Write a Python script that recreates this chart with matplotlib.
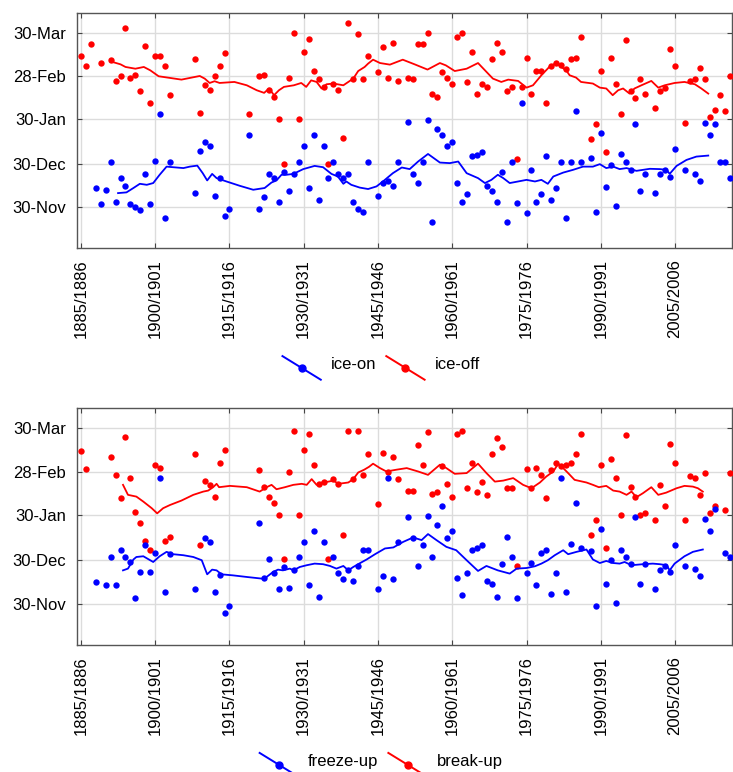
import matplotlib
matplotlib.use("Agg")
import numpy as np
import matplotlib.pyplot as plt
from matplotlib.lines import Line2D
from matplotlib.legend_handler import HandlerBase

plt.rcParams["font.family"] = ["Liberation Sans", "DejaVu Sans"]

# day of season counted from 30-Nov (0)
date_ticks = [0, 30, 61, 90, 120]
date_labels = ["30-Nov", "30-Dec", "30-Jan", "28-Feb", "30-Mar"]
season_ticks = [1885, 1900, 1915, 1930, 1945, 1960, 1975, 1990, 2005]
season_labels = ["%d/%d" % (y, y + 1) for y in season_ticks]

# ---- top panel: ice-on / ice-off ----
off_years = [1885, 1886, 1887, 1889, 1891, 1892, 1893, 1894, 1895, 1896, 1897, 1898, 1899,
             1900, 1901, 1902, 1903, 1908, 1909, 1910, 1911, 1912, 1913, 1914, 1919, 1921,
             1922, 1923, 1924, 1925, 1926, 1927, 1928, 1929, 1930, 1931, 1932, 1933, 1934,
             1935, 1936, 1937, 1938, 1939, 1940, 1941, 1942, 1943, 1945, 1946, 1947, 1948,
             1949, 1951, 1952, 1953, 1954, 1955, 1956, 1957, 1958, 1959, 1960, 1961, 1962,
             1963, 1964, 1965, 1966, 1967, 1968, 1969, 1970, 1971, 1972, 1973, 1974, 1975,
             1976, 1977, 1978, 1979, 1980, 1981, 1982, 1983, 1984, 1985, 1986, 1988, 1989,
             1990, 1991, 1992, 1993, 1994, 1995, 1996, 1997, 1998, 1999, 2001, 2002, 2003,
             2004, 2005, 2007, 2008, 2009, 2010, 2011, 2012, 2013, 2014, 2015, 2016]
off_days = [104, 97, 112, 99, 101, 87, 90, 123, 89, 91, 80, 111, 72,
            104, 104, 97, 77, 102, 65, 84, 81, 90, 97, 106, 64, 90,
            91, 81, 76, 61, 30, 89, 120, 61, 107, 116, 94, 88, 83,
            30, 85, 81, 48, 127, 88, 119, 88, 104, 93, 110, 89, 113,
            87, 89, 88, 112, 112, 120, 78, 76, 93, 89, 85, 117, 120,
            86, 107, 78, 85, 83, 102, 113, 107, 80, 83, 33, 83, 103,
            78, 94, 94, 72, 97, 99, 98, 95, 102, 103, 117, 47, 57,
            94, 38, 103, 85, 64, 115, 80, 75, 88, 78, 68, 80, 82,
            109, 97, 58, 87, 88, 96, 88, 62, 67, 77, 66, 90]

on_years = [1888, 1889, 1890, 1891, 1892, 1893, 1894, 1895, 1896, 1897, 1898, 1899, 1900,
            1901, 1902, 1903, 1908, 1909, 1910, 1911, 1912, 1913, 1914, 1915, 1919, 1921,
            1922, 1923, 1924, 1925, 1926, 1927, 1928, 1929, 1930, 1931, 1932, 1933, 1934,
            1935, 1936, 1937, 1938, 1939, 1940, 1941, 1942, 1943, 1945, 1946, 1947, 1948,
            1949, 1951, 1952, 1953, 1954, 1955, 1956, 1957, 1958, 1959, 1960, 1961, 1962,
            1963, 1964, 1965, 1966, 1967, 1968, 1969, 1970, 1971, 1972, 1973, 1974, 1975,
            1976, 1977, 1978, 1979, 1980, 1981, 1982, 1983, 1984, 1985, 1986, 1988, 1989,
            1990, 1991, 1992, 1993, 1994, 1995, 1996, 1997, 1998, 1999, 2001, 2002, 2003,
            2004, 2005, 2007, 2009, 2010, 2011, 2012, 2013, 2014, 2015, 2016]
on_days = [13, 2, 12, 31, 4, 20, 15, 2, 0, -2, 23, 2, 32,
           64, -7, 31, 10, 39, 45, 42, 8, 20, -6, -1, 50, -1,
           7, 23, 20, 4, 24, 11, 23, 31, 42, 13, 50, 5, 42,
           20, 31, 23, 20, 23, 4, -1, -3, 31, 8, 17, 18, 15,
           31, 59, 23, 17, 31, 60, -10, 54, 50, 42, 45, 17, 4,
           9, 35, 36, 38, 15, 11, 4, 24, -10, 31, 3, 72, -4,
           26, 4, 9, 35, 5, 13, 31, -7, 31, 66, 31, 34, -3,
           51, 14, 29, 1, 37, 31, 26, 57, 11, 23, 10, 23, 26,
           21, 40, 26, 23, 18, 58, 50, 57, 31, 31, 20]

# running means
off_ma_years = [1891, 1893, 1894, 1896, 1897.7, 1899, 1900.7, 1905.3, 1909, 1910, 1911, 1912,
                1913, 1916, 1918.5, 1920.5, 1922, 1923, 1924, 1925, 1926, 1928, 1929.5, 1930.5,
                1931.5, 1932.6, 1933.6, 1934.6, 1936, 1938, 1940, 1941, 1942.3, 1943, 1944,
                1945.4, 1947.4, 1950, 1952.4, 1955, 1957.5, 1958.7, 1960.5, 1962.9, 1965.2,
                1966.6, 1968.2, 1969.9, 1971.3, 1973.3, 1975, 1976.3, 1978, 1979.7, 1981, 1982,
                1983, 1983.7, 1985, 1986, 1988.4, 1989.8, 1991.1, 1992.4, 1993.5, 1994.5,
                1995.8, 1996.8, 1998.2, 2000.2, 2001.6, 2002.9, 2004.9, 2006.9, 2009, 2010.3,
                2011.7]
off_ma_days = [100.3, 98.3, 96.5, 95.3, 96.5, 94.2, 90.1, 87.8, 90.3, 88.5, 85.5, 86.7,
               85.5, 86.2, 83.9, 80.5, 78.7, 81.7, 77.1, 80.5, 82.8, 83.9, 85.5, 82.8,
               87.3, 86.2, 81.7, 84.6, 85.1, 83.9, 88.5, 93.7, 96.5, 98.8, 101.5,
               99.2, 98.1, 101.5, 98.3, 94.7, 99.2, 97.6, 93.7, 95.3, 99.2,
               94.2, 88.5, 86.2, 87.8, 86.9, 82.3, 83.9, 90.8, 96.9, 99.2, 96.5,
               94.2, 90.8, 89.2, 86.2, 85.1, 82.3, 81.7, 77.1, 80.5, 81.7,
               78.2, 81.7, 83.9, 86.9, 82.3, 83.9, 85.5, 86.2, 84.6, 81.7,
               78.2]

on_ma_years = [1892.5, 1894.2, 1895.6, 1896.9, 1898.3, 1899.6, 1900.9, 1902.3, 1903.6, 1905.7,
               1907, 1908.5, 1909.6, 1910.5, 1911.5, 1912.4, 1914.4, 1917.1, 1919.8, 1922.1,
               1923.5, 1924.5, 1925.5, 1926.5, 1927.9, 1929.9, 1932.2, 1933.9, 1935.6, 1936.9,
               1938, 1938.6, 1939.6, 1941.3, 1943, 1944.7, 1946, 1948, 1949.8, 1951.4, 1953.1,
               1955.1, 1957.5, 1959.5, 1961.2, 1962.9, 1965.2, 1966.6, 1967.9, 1969.2, 1970.3,
               1971.6, 1973.3, 1975, 1976.7, 1978, 1979.3, 1980.4, 1982.4, 1984.4, 1986.4,
               1988.4, 1989.8, 1991.1, 1992.5, 1993.8, 1995.2, 1997.2, 1999.9, 2001.9, 2003.3,
               2003.9, 2005.3, 2007.3, 2009.3, 2011.7]
on_ma_days = [9.8, 10.3, 13.3, 16.2, 15.5, 16.7, 22.4, 28.0, 27.6, 27.0,
              28.0, 28.7, 23.5, 18.5, 23.0, 20.1, 17.8, 14.8, 12.1, 13.3,
              17.1, 18.5, 22.4, 22.4, 23.0, 26.3, 28.5, 27.6, 23.0, 21.2,
              16.2, 17.8, 15.5, 13.6, 12.6, 14.4, 17.8, 23.5, 27.4, 26.3, 31.5,
              36.7, 30.8, 30.4, 31.5, 23.5, 20.1, 16.7, 18.9, 22.4, 20.1,
              16.7, 17.8, 18.9, 17.8, 18.9, 16.2, 21.2, 23.9, 25.8, 28.0,
              28.0, 29.7, 27.0, 28.0, 26.3, 27.0, 25.1, 26.5, 26.3, 25.8,
              23.0, 28.5, 32.6, 34.9, 35.6]

# ---- bottom panel: freeze-up / break-up ----
brk_years = [1885, 1886, 1891, 1892, 1893, 1894, 1895, 1896, 1897, 1898, 1899, 1900, 1901,
             1902, 1903, 1908, 1909, 1910, 1911, 1912, 1913, 1914, 1921, 1922, 1923, 1924,
             1925, 1926, 1927, 1928, 1929, 1930, 1931, 1932, 1933, 1934, 1935, 1936, 1937,
             1938, 1939, 1940, 1941, 1942, 1943, 1945, 1946, 1947, 1948, 1949, 1951, 1952,
             1953, 1954, 1955, 1956, 1957, 1958, 1959, 1960, 1961, 1962, 1963, 1964, 1965,
             1966, 1967, 1968, 1969, 1970, 1971, 1972, 1973, 1975, 1976, 1977, 1978, 1979,
             1980, 1981, 1982, 1983, 1984, 1985, 1986, 1988, 1989, 1990, 1991, 1992, 1993,
             1994, 1995, 1996, 1997, 1998, 1999, 2001, 2002, 2003, 2004, 2005, 2007, 2008,
             2009, 2010, 2011, 2012, 2013, 2015, 2016]
brk_days = [104, 92, 100, 88, 72, 114, 86, 63, 55, 43, 37, 95, 93,
            43, 46, 102, 40, 84, 81, 73, 96, 105, 91, 80, 73, 69,
            61, 31, 90, 118, 61, 105, 116, 95, 82, 83, 31, 85, 82,
            47, 118, 85, 118, 88, 102, 68, 103, 90, 100, 85, 77, 77,
            108, 95, 117, 75, 76, 94, 82, 73, 116, 118, 79, 96, 76,
            83, 74, 102, 113, 107, 79, 79, 26, 92, 79, 93, 88, 72,
            91, 96, 94, 95, 96, 102, 116, 47, 57, 95, 38, 99, 86,
            61, 115, 80, 73, 61, 62, 57, 81, 67, 109, 96, 57, 87,
            86, 74, 89, 62, 67, 64, 89]

frz_years = [1888, 1890, 1891, 1892, 1893, 1894, 1895, 1896, 1897, 1898, 1899, 1900, 1901,
             1902, 1903, 1908, 1910, 1911, 1912, 1913, 1914, 1915, 1921, 1922, 1923, 1924,
             1925, 1926, 1927, 1928, 1929, 1930, 1931, 1932, 1933, 1934, 1936, 1937, 1938,
             1939, 1940, 1941, 1942, 1943, 1945, 1946, 1947, 1948, 1949, 1951, 1952, 1953,
             1954, 1955, 1956, 1957, 1958, 1959, 1960, 1961, 1962, 1963, 1964, 1965, 1966,
             1967, 1968, 1969, 1970, 1971, 1972, 1973, 1975, 1976, 1977, 1978, 1979, 1980,
             1981, 1982, 1983, 1984, 1985, 1986, 1988, 1989, 1990, 1991, 1992, 1993, 1994,
             1995, 1996, 1997, 1998, 1999, 2001, 2002, 2003, 2004, 2005, 2007, 2009, 2010,
             2011, 2012, 2013, 2015, 2016]
frz_days = [15, 13, 32, 13, 37, 32, 29, 4, 22, 40, 22, 35, 86,
            8, 34, 10, 45, 42, 8, 20, -6, -1, 55, 18, 31, 21,
            10, 25, 11, 23, 32, 42, 13, 50, 5, 42, 32, 21, 17,
            23, 16, 26, 37, 37, 10, 19, 86, 17, 42, 59, 45, 26,
            40, 60, 32, 54, 67, 45, 50, 18, 6, 21, 37, 38, 40,
            16, 14, 5, 27, 46, 32, 4, 21, 28, 13, 35, 37, 7,
            21, 86, 8, 41, 69, 38, 36, -1, 51, 14, 30, 1, 37,
            32, 27, 59, 14, 27, 10, 23, 26, 22, 40, 26, 24, 19,
            58, 50, 65, 35, 32]

brk_ma_years = [1893.5, 1894.5, 1896.2, 1897.6, 1899.3, 1900.4, 1901.6, 1903, 1905.3, 1907.7,
                1909.7, 1910.7, 1911.7, 1912.4, 1912.9, 1915.1, 1918.5, 1921.1, 1922.5, 1923.5,
                1924.5, 1926.2, 1927.9, 1929.6, 1930.6, 1931.6, 1932.6, 1933.6, 1935, 1936,
                1937, 1939, 1940, 1941, 1942.2, 1943.2, 1944, 1945.4, 1946.7, 1948.7, 1950.8,
                1953.1, 1955.1, 1957.5, 1958.8, 1960.5, 1962.9, 1965.2, 1966.9, 1968.6, 1970.3,
                1972.3, 1974.3, 1976, 1977.7, 1979, 1980.4, 1981.4, 1982.4, 1983.4, 1984.7,
                1987.1, 1988.4, 1989.6, 1991.1, 1992.5, 1993.8, 1995.2, 1996.2, 1997.2, 1998.5,
                2000.2, 2001.6, 2003.2, 2005.3, 2006.9, 2008.6, 2009.6, 2010.6]
brk_ma_days = [81.2, 74.4, 73.2, 69.8, 65.3, 61.8, 65.3, 67.5, 70.5, 74.4,
               76.6, 77.3, 79.6, 81.9, 79.6, 80.5, 79.6, 76.6, 79.6, 81.2,
               78.2, 79.6, 81.2, 81.9, 81.2, 85.1, 81.2, 82.8, 83.4, 84.1,
               81.9, 82.8, 85.1, 89.6, 91.5, 93.5, 95.6, 92.6, 90.3, 91.5, 92.6,
               90.3, 88.0, 94.9, 92.6, 88.7, 89.2, 95.6, 89.2, 83.4, 84.1,
               85.8, 81.2, 78.9, 82.8, 86.9, 90.3, 95.6, 92.6, 89.2, 84.6,
               82.8, 81.2, 79.6, 80.5, 77.3, 76.6, 74.4, 76.6, 72.8, 75.5,
               79.6, 74.4, 75.9, 78.9, 80.5, 80.0, 78.9, 76.6]

frz_ma_years = [1893.5, 1894.5, 1895.6, 1896.2, 1897.6, 1899.6, 1900.9, 1902.3, 1903.6, 1905.7,
                1907.7, 1909.4, 1910.5, 1911.5, 1912.4, 1913.4, 1915.7, 1918.5, 1921.5, 1922.5,
                1923.8, 1924.8, 1925.8, 1927.2, 1927.9, 1929.2, 1930.6, 1932.2, 1933.9, 1935.3,
                1936.6, 1938, 1939, 1940, 1941.3, 1942.7, 1944.4, 1946.4, 1948.1, 1950.1,
                1952.1, 1953.8, 1955.1, 1956.8, 1958.8, 1960.8, 1962.9, 1965.2, 1966.9, 1969.2,
                1971.6, 1973, 1975, 1976.7, 1978, 1979.3, 1980.7, 1982.4, 1983.4, 1985.1,
                1987.1, 1988.4, 1989.8, 1991.1, 1992.5, 1993.8, 1994.8, 1996.2, 1998.5, 2000.5,
                2001.9, 2003.3, 2003.9, 2004.9, 2006.9, 2008.6, 2010.6]
frz_ma_days = [23.0, 24.2, 30.4, 32.1, 32.6, 28.7, 32.6, 35.6, 34.0, 33.3,
               32.1, 29.9, 20.3, 23.5, 23.0, 20.3, 19.6, 18.5, 17.4, 18.5,
               21.9, 23.5, 23.0, 24.2, 23.0, 25.3, 26.5, 27.6, 27.2, 26.0,
               24.2, 26.0, 23.0, 25.3, 27.8, 30.4, 34.0, 37.9, 38.6, 42.4,
               45.4, 43.6, 47.7, 43.6, 39.0, 36.7, 29.9, 22.6, 26.0, 23.0,
               20.8, 24.2, 24.6, 25.8, 27.6, 29.9, 33.3, 36.7, 34.0, 35.6,
               37.2, 30.4, 28.0, 29.4, 28.0, 27.6, 28.7, 26.5, 27.2, 27.6,
               27.2, 26.5, 23.0, 27.6, 32.6, 35.6, 37.2]

BLUE = "#0000ff"
RED = "#ff0000"


class DiagonalHandler(HandlerBase):
    # legend key drawn as a sloped line with a dot in the middle
    def create_artists(self, legend, orig_handle, xdescent, ydescent, width, height,
                       fontsize, trans):
        x0 = -xdescent
        x1 = -xdescent + width
        yc = -ydescent + height / 2 - 3.5
        y0, y1 = yc + 8.5, yc - 8.5
        line = Line2D([x0, x1], [y0, y1], color=orig_handle.get_color(), lw=1.4)
        dot = Line2D([(x0 + x1) / 2], [yc], marker="o", ms=5, ls="none",
                     color=orig_handle.get_color())
        line.set_transform(trans)
        dot.set_transform(trans)
        return [line, dot]


def draw_panel(ax, on_x, on_y, off_x, off_y, on_mx, on_my, off_mx, off_my):
    ax.scatter(off_x, off_y, s=21, color=RED, linewidths=0, zorder=3)
    ax.scatter(on_x, on_y, s=21, color=BLUE, linewidths=0, zorder=3)
    ax.plot(off_mx, off_my, color=RED, lw=1.3, zorder=4)
    ax.plot(on_mx, on_my, color=BLUE, lw=1.3, zorder=4)

    ax.set_xlim(1884.2, 2016.4)
    ax.set_ylim(-27.8, 133.5)
    ax.set_xticks(season_ticks)
    ax.set_xticklabels(season_labels, rotation=90)
    ax.set_yticks(date_ticks)
    ax.set_yticklabels(date_labels)
    ax.grid(True, color="#dcdcdc", lw=1.0)
    ax.set_axisbelow(True)
    ax.tick_params(direction="in", length=3.5, width=0.8, color="#444444",
                   top=True, right=True, labelsize=12, pad=8)
    for sp in ax.spines.values():
        sp.set_color("#555555")
        sp.set_linewidth(1.0)


fig = plt.figure(figsize=(7.33, 7.72), dpi=100)
ax1 = fig.add_axes([0.105, 0.679, 0.893, 0.304])
ax2 = fig.add_axes([0.105, 0.1645, 0.893, 0.307])

draw_panel(ax1, on_years, on_days, off_years, off_days,
           on_ma_years, on_ma_days, off_ma_years, off_ma_days)
draw_panel(ax2, frz_years, frz_days, brk_years, brk_days,
           frz_ma_years, frz_ma_days, brk_ma_years, brk_ma_days)

h_on = Line2D([], [], color=BLUE)
h_off = Line2D([], [], color=RED)
hmap = {h_on: DiagonalHandler(), h_off: DiagonalHandler()}

fig.legend([h_on, h_off], ["ice-on", "ice-off"], handler_map=hmap,
           loc="center", bbox_to_anchor=(0.52, 0.528), ncol=2, frameon=False,
           fontsize=12, handlelength=2.3, handletextpad=0.6, columnspacing=0.6)
fig.legend([h_on, h_off], ["freeze-up", "break-up"], handler_map=hmap,
           loc="center", bbox_to_anchor=(0.52, 0.014), ncol=2, frameon=False,
           fontsize=12, handlelength=2.3, handletextpad=0.6, columnspacing=0.6)

fig.savefig("out.png", dpi=100)
